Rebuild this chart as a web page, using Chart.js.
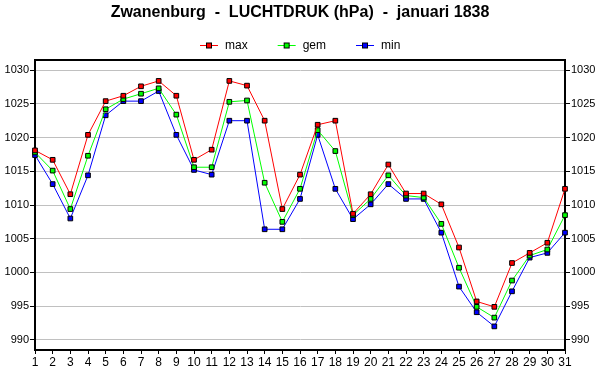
<!DOCTYPE html>
<html><head><meta charset="utf-8">
<script src="https://cdn.jsdelivr.net/npm/chart.js@4"></script>
<style>html,body{margin:0;padding:0;background:#fff}canvas{display:block}</style>
</head><body>
<canvas id="c" width="600" height="390"></canvas>
<script>
const days = ['1','2','3','4','5','6','7','8','9','10','11','12','13','14','15','16','17','18','19','20','21','22','23','24','25','26','27','28','29','30','31'];
const maxValues = [1018.1,1016.7,1011.6,1020.4,1025.4,1026.2,1027.6,1028.4,1026.2,1016.7,1018.2,1028.4,1027.7,1022.5,1009.4,1014.5,1021.9,1022.5,1008.7,1011.6,1016.0,1011.7,1011.7,1010.1,1003.7,995.7,994.9,1001.4,1002.9,1004.4,1012.4];
const gemValues = [1017.8,1015.1,1009.4,1017.3,1024.2,1025.7,1026.5,1027.3,1023.4,1015.6,1015.6,1025.3,1025.5,1013.3,1007.5,1012.4,1021.1,1018.0,1008.5,1010.9,1014.4,1011.4,1011.1,1007.2,1000.7,994.9,993.3,998.8,1002.5,1003.4,1008.5];
const minValues = [1017.4,1013.1,1008.0,1014.4,1023.3,1025.4,1025.4,1026.9,1020.4,1015.2,1014.5,1022.5,1022.5,1006.4,1006.4,1010.9,1020.4,1012.4,1007.9,1010.1,1013.1,1010.9,1010.9,1005.9,997.9,994.1,992.0,997.2,1002.2,1002.9,1005.9];
const yTicks = [990,995,1000,1005,1010,1015,1020,1025,1030];
const seriesNames = ['max','gem','min'];
const seriesColors = ['#ff0000','#00ff00','#0000ff'];

const FONT = "'Liberation Sans', Arial, sans-serif";

function mkDataset(i, data){
  return {
    label: seriesNames[i], data: data,
    borderColor: seriesColors[i], backgroundColor: seriesColors[i],
    borderWidth: 1, tension: 0,
    pointStyle: 'rect', pointRadius: 3.3, pointBorderColor: '#000',
    pointBackgroundColor: seriesColors[i], pointBorderWidth: 1,
    pointHoverRadius: 3.3
  };
}

// top frame line + legend (line with square marker, text)
const extras = {
  id: 'extras',
  afterDraw(chart){
    const a = chart.chartArea, ctx = chart.ctx;
    ctx.save();
    ctx.strokeStyle = '#000'; ctx.lineWidth = 2;
    ctx.beginPath(); ctx.moveTo(a.left-1, a.top); ctx.lineTo(a.right+1, a.top); ctx.stroke();

    // legend
    ctx.font = '12px ' + FONT;
    const lineW = 18, gapText = 7, gapItem = 30;
    const items = chart.data.datasets.map(d => ({text: d.label, color: d.borderColor, w: lineW + gapText + ctx.measureText(d.label).width}));
    const total = items.reduce((s,it) => s + it.w, 0) + gapItem * (items.length - 1);
    let x = Math.round((chart.width - total) / 2);
    const y = 45;
    ctx.textBaseline = 'middle'; ctx.textAlign = 'left'; ctx.fillStyle = '#000';
    items.forEach(it => {
      ctx.strokeStyle = it.color; ctx.lineWidth = 1;
      ctx.beginPath(); ctx.moveTo(x, y + 0.5); ctx.lineTo(x + lineW, y + 0.5); ctx.stroke();
      ctx.fillStyle = '#000'; ctx.fillRect(x + 6, y - 2.5, 6, 6);
      ctx.fillStyle = it.color; ctx.fillRect(x + 7, y - 1.5, 4, 4);
      ctx.fillStyle = '#000';
      ctx.fillText(it.text, x + lineW + gapText, y + 1);
      x += it.w + gapItem;
    });
    ctx.restore();
  }
};

const yCommon = {
  min: 988.5, max: 1031.5,
  afterBuildTicks(s){ s.ticks = yTicks.map(v => ({value: v})); },
  ticks: { color: '#000', font: {family: FONT, size: 11}, padding: 1, callback: v => String(v) },
  border: { color: '#000', width: 2 }
};

new Chart(document.getElementById('c'), {
  type: 'line',
  data: { labels: days, datasets: [mkDataset(0,maxValues), mkDataset(1,gemValues), mkDataset(2,minValues)] },
  options: {
    responsive: false, animation: false,
    layout: { padding: {left: 0, right: 0, top: 0, bottom: 0} },
    plugins: {
      tooltip: {enabled: false},
      legend: {display: false},
      title: { display: true, text: 'Zwanenburg  -  LUCHTDRUK (hPa)  -  januari 1838', color: '#000',
        font: {family: FONT, size: 16, weight: 'bold', lineHeight: 1.2}, padding: {top: 3, bottom: 37.8} }
    },
    scales: {
      x: {
        type: 'category', offset: false,
        grid: { drawOnChartArea: false, drawTicks: true, tickLength: 4, tickColor: '#000' },
        border: { color: '#000', width: 2 },
        ticks: { color: '#000', font: {family: FONT, size: 12}, padding: 1, maxRotation: 0, autoSkip: false },
        afterFit(s){ s.height = 40; }
      },
      y: Object.assign({}, yCommon, {
        position: 'left',
        grid: { color: '#c0c0c0', lineWidth: 1, tickLength: 5, tickColor: '#000' },
        afterFit(s){ s.width = 35; }
      }),
      y2: Object.assign({}, yCommon, {
        position: 'right',
        grid: { drawOnChartArea: false, tickLength: 5, tickColor: '#000' },
        afterFit(s){ s.width = 35; }
      })
    }
  },
  plugins: [extras]
});
</script>
</body></html>
